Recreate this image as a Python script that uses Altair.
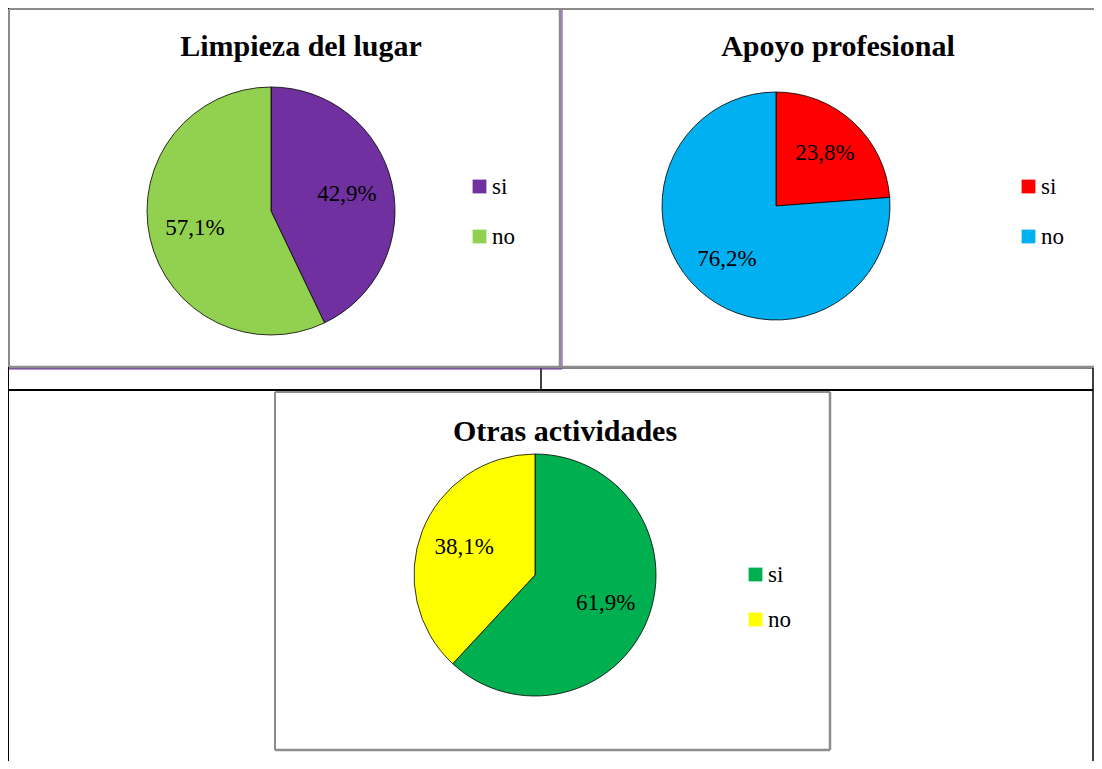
import altair as alt
import pandas as pd

# ---- data ----
categories = ["si", "no"]
titles = ["Limpieza del lugar", "Apoyo profesional", "Otras actividades"]
limpieza = [42.9, 57.1]
apoyo = [23.8, 76.2]
otras = [61.9, 38.1]
colors_limpieza = ["#7030A0", "#92D050"]
colors_apoyo = ["#FF0000", "#00B0F0"]
colors_otras = ["#00B050", "#FFFF00"]

SERIF = "Liberation Serif"
OFF = 8  # page margin
W, H = 1086, 753


def table(values):
    return pd.DataFrame({
        "cat": categories,
        "val": values,
        "idx": list(range(len(values))),
        "lbl": [f"{v:.1f}".replace(".", ",") + "%" for v in values],
    })


def pie(values, colors, cx, cy, r, label_r, lx, ly, row_pad):
    df = table(values)
    base = alt.Chart(df).encode(
        theta=alt.Theta("val:Q", stack=True),
        order=alt.Order("idx:Q"),
        x=alt.value(cx - OFF),
        y=alt.value(cy - OFF),
    )
    arc = base.mark_arc(outerRadius=r, stroke="black", strokeWidth=0.8).encode(
        color=alt.Color(
            "cat:N",
            scale=alt.Scale(domain=categories, range=colors),
            legend=alt.Legend(
                orient="none", legendX=lx - OFF, legendY=ly - OFF, title=None,
                symbolType="square", symbolSize=190, symbolStrokeWidth=0,
                labelFont=SERIF, labelFontSize=23, labelColor="black",
                labelOffset=1, rowPadding=row_pad, padding=0,
            ),
        )
    )
    txt = base.mark_text(radius=label_r, font=SERIF, fontSize=23, color="black").encode(
        text="lbl:N"
    )
    return [arc, txt]


def title_mark(text, cx, base_y):
    return alt.Chart(pd.DataFrame({"t": [text]})).mark_text(
        font=SERIF, fontSize=30, fontWeight="bold", color="black",
        align="center", baseline="alphabetic",
    ).encode(text="t:N", x=alt.value(cx - OFF), y=alt.value(base_y - OFF))


# decorative frames / table lines (screen coordinates minus margin)
RB = W - 1  # right table border (clamped to the drawable area)
lines = pd.DataFrame([
    # table lines (black)
    dict(x=0, x2=W, y=0, y2=0, c="black", w=2),
    dict(x=0, x2=0, y=0, y2=H, c="black", w=2),
    dict(x=0, x2=W, y=360, y2=360, c="black", w=1),
    dict(x=533, x2=533, y=360, y2=382, c="black", w=1.5),
    dict(x=0, x2=RB, y=382, y2=382, c="black", w=2),
    dict(x=RB, x2=RB, y=360, y2=H, c="black", w=1.5),
    # chart 1 frame
    dict(x=1, x2=552, y=1, y2=1, c="#8c8c8c", w=2),
    dict(x=1, x2=1, y=1, y2=359, c="#8c8c8c", w=2),
    dict(x=1, x2=552, y=359, y2=359, c="#8c8c8c", w=2.5),
    dict(x=552, x2=552, y=1, y2=359, c="#8c8c8c", w=2.5),
    dict(x=1, x2=554, y=361, y2=361, c="#7030A0", w=1),
    dict(x=554, x2=554, y=1, y2=361, c="#7030A0", w=1),
    # chart 2 frame
    dict(x=552, x2=W, y=1, y2=1, c="#8c8c8c", w=2),
    dict(x=552, x2=W, y=359, y2=359, c="#8c8c8c", w=2.5),
    # chart 3 frame
    dict(x=267, x2=822, y=384, y2=384, c="#8c8c8c", w=2),
    dict(x=267, x2=267, y=384, y2=742, c="#8c8c8c", w=2),
    dict(x=267, x2=822, y=742, y2=742, c="#8c8c8c", w=2.5),
    dict(x=822, x2=822, y=384, y2=742, c="#8c8c8c", w=2.5),
])

frames = alt.Chart(lines).mark_rule().encode(
    x=alt.X("x:Q", scale=None),
    x2="x2:Q",
    y=alt.Y("y:Q", scale=None),
    y2="y2:Q",
    color=alt.Color("c:N", scale=None),
    strokeWidth=alt.StrokeWidth("w:Q", scale=None),
)

layers = [frames]
layers += pie(limpieza, colors_limpieza, 271, 211, 124, 78, 468, 175, 26)
layers += pie(apoyo, colors_apoyo, 776, 206, 114, 72, 1017, 175, 26)
layers += pie(otras, colors_otras, 535, 575, 121, 76, 744, 563, 21)
layers += [
    title_mark(titles[0], 301, 56),
    title_mark(titles[1], 838, 56),
    title_mark(titles[2], 565, 441),
]

chart = alt.layer(*layers).resolve_scale(
    color="independent", theta="independent"
).properties(
    width=W, height=H, padding=0, autosize="none", background="white"
).configure_view(strokeWidth=0).configure_legend(
    labelFont=SERIF, labelFontSize=23, labelColor="black"
)

chart.save("out.html", embed_options={"renderer": "svg", "actions": False})
